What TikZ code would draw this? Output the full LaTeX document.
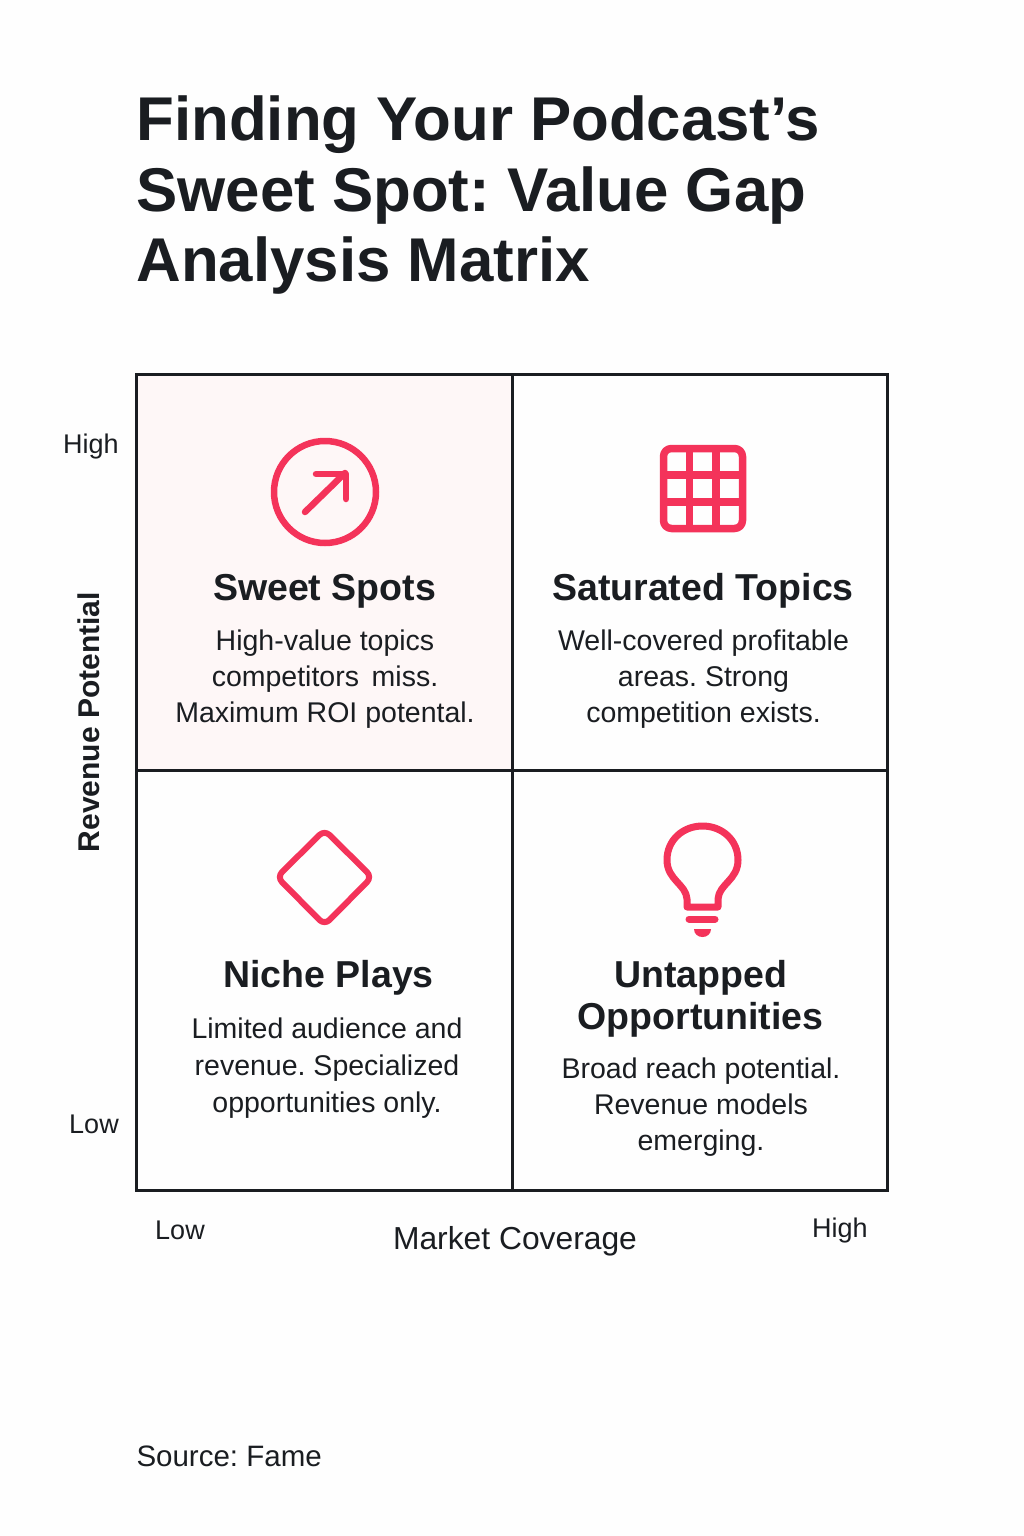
\documentclass[tikz,border=0pt]{standalone}
\usepackage{fontspec}
\setmainfont{Liberation Sans}
\definecolor{iconred}{HTML}{F4335A}
\definecolor{inkdark}{HTML}{1A1D21}
\definecolor{sweetpink}{HTML}{FEF7F7}
\definecolor{pagewhite}{HTML}{FEFEFE}
\tikzset{
  titleline/.style={anchor=base west, inner sep=0, text=inkdark, font=\fontsize{61.8}{70}\selectfont\bfseries\frenchspacing},
  cellhead/.style={text=inkdark, align=center, font=\fontsize{37.5}{42}\selectfont\bfseries},
  cellbody/.style={text=inkdark, align=center, font=\fontsize{28.5}{36}\selectfont\frenchspacing},
  axislabel/.style={text=inkdark, font=\fontsize{27}{32}\selectfont},
  axisname/.style={text=inkdark, font=\fontsize{31.8}{38}\selectfont},
  gridline/.style={draw=inkdark, line width=3},
  iconline/.style={draw=iconred, line width=6.5, line cap=round, line join=round}
}
\begin{document}
\begin{tikzpicture}[x=1pt, y=-1pt, line width=1pt]
\useasboundingbox[fill=pagewhite] (0,0) rectangle (1024,1536);

% title
\node (titleone) [titleline] at (136,141) {Finding Your Podcast’s};
\node (titletwo) [titleline] at (136,211) {Sweet Spot: Value Gap};
\node (titlethree) [titleline] at (136,281) {Analysis Matrix};

% matrix
\fill[sweetpink] (136.5,374) rectangle (512,770);
\draw[gridline] (136.5,374) rectangle (887.5,1190);
\draw[gridline] (512,374)--(512,1190);
\draw[gridline] (136.5,770)--(887.5,770);

% icon top left
\draw[iconline] (325,492) circle (51);
\draw[iconline] (305,512)--(345,473);
\draw[iconline] (316,474)--(346,474)--(346,499);

% icon top right
\draw[iconline, line width=7.5, rounded corners=8] (663.5,448.5) rectangle (742.5,528.5);
\draw[iconline, line width=7.5, line cap=butt] (689.5,448.5)--(689.5,528.5);
\draw[iconline, line width=7.5, line cap=butt] (716,448.5)--(716,528.5);
\draw[iconline, line width=7.5, line cap=butt] (663.5,475)--(742.5,475);
\draw[iconline, line width=7.5, line cap=butt] (663.5,502)--(742.5,502);

% icon bottom left
\draw[iconline, line width=6, rounded corners=7] (324.5,830)--(372,877)--(324.5,925)--(277,877)--cycle;

% icon bottom right
\draw[iconline, line width=7] (687,907)--(687,899)
  .. controls (686,884) and (667,880) .. (667,860)
  .. controls (667,840) and (683,826) .. (702.5,826)
  .. controls (722,826) and (738,840) .. (738,860)
  .. controls (738,880) and (719,884) .. (718,899)
  --(718,907)--cycle;
\draw[iconline, line width=7] (689,919)--(715,919);
\fill[iconred] (694,929)--(711,929) .. controls (711,934) and (707,937) .. (702.5,937) .. controls (698,937) and (694,934) .. (694,929)--cycle;

% cell texts
\node (sweethead) [cellhead] at (324.5,591) {Sweet Spots};
\node (sweetbody) [cellbody] at (325,679.5) {High-value topics\\competitors\, miss.\\Maximum ROI potental.};
\node (saturatedhead) [cellhead] at (703,591) {Saturated Topics};
\node (saturatedbody) [cellbody] at (703.5,679.5) {Well-covered profitable\\areas. Strong\\competition exists.};
\node (nichehead) [cellhead] at (328.5,978) {Niche Plays};
\node (nichebody) [cellbody, font=\fontsize{28.5}{37}\selectfont\frenchspacing] at (327,1068) {Limited audience and\\revenue. Specialized\\opportunities only.};
\node (untappedhead) [cellhead] at (700.5,999) {Untapped\\Opportunities};
\node (untappedbody) [cellbody] at (701,1107) {Broad reach potential.\\Revenue models\\emerging.};

% axes
\node (highy) [axislabel] at (91,447) {High};
\node (lowy) [axislabel] at (94,1124) {Low};
\node (lowx) [axislabel] at (180,1230) {Low};
\node (highx) [axislabel] at (840,1231) {High};
\node (marketname) [axisname] at (515,1241) {Market Coverage};
\node (revenuename) [axisname, font=\fontsize{30}{36}\selectfont\bfseries, rotate=90] at (89,722) {Revenue Potential};

\node (sourcenote) [anchor=base west, inner sep=0, text=inkdark, font=\fontsize{29.5}{34}\selectfont\frenchspacing] at (136,1466) {Source: Fame};
\end{tikzpicture}
\end{document}
